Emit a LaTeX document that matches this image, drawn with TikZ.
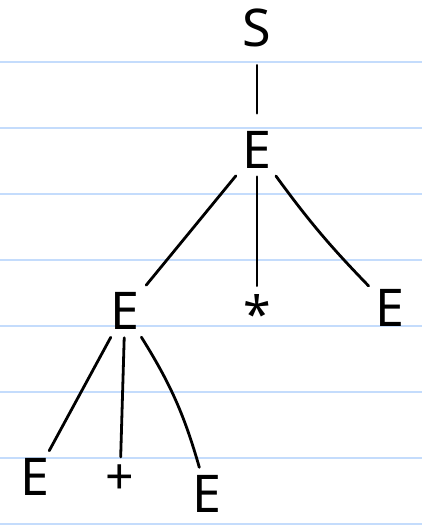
\documentclass[tikz,border=0pt]{standalone}
\usepackage{fontspec}
\setmainfont{Noto Sans}
\usetikzlibrary{positioning}
\definecolor{ruleblue}{RGB}{196,220,252}

\begin{document}
\begin{tikzpicture}[x=1pt, y=-1pt,
  sym/.style={font=\fontsize{52}{60}\selectfont, inner sep=4pt},
  tok/.style={font=\fontsize{50}{60}\selectfont, inner sep=4pt},
  branch/.style={line width=2.8pt, line cap=round, black, shorten <=4pt, shorten >=4pt},
  ruled/.style={line width=1.6pt, ruleblue},
]
\useasboundingbox (0,0) rectangle (422,528);
% === lined paper ===
\foreach \ly in {62,128,194,260,326,392,458,524}
  \draw[ruled] (0,\ly) -- (422,\ly);

% === tree ===
\node[sym] (s) at (257, 28) {S};
\node[sym] (e_top) at (257, 150) {E};
\draw[branch, shorten <=14pt, shorten >=14pt] (s) -- (e_top);

\node[sym] (e_l) at (125, 311) {E};
\node[tok] (star) at (257, 313) {*};
\node[sym] (e_r) at (390, 308) {E};
\draw[branch] (e_top) -- (e_l);
\draw[branch] (e_top) -- (star);
\draw[branch] (e_top) to[bend right=4] (e_r);

\node[sym] (e_ll) at (35, 477) {E};
\node[tok] (plus) at (120, 480) {+};
\node[sym] (e_lr) at (207, 494) {E};
\draw[branch] (e_l) -- (e_ll);
\draw[branch] (e_l) -- (plus);
\draw[branch] (e_l) to[bend left=8] (e_lr);
\end{tikzpicture}
\end{document}
